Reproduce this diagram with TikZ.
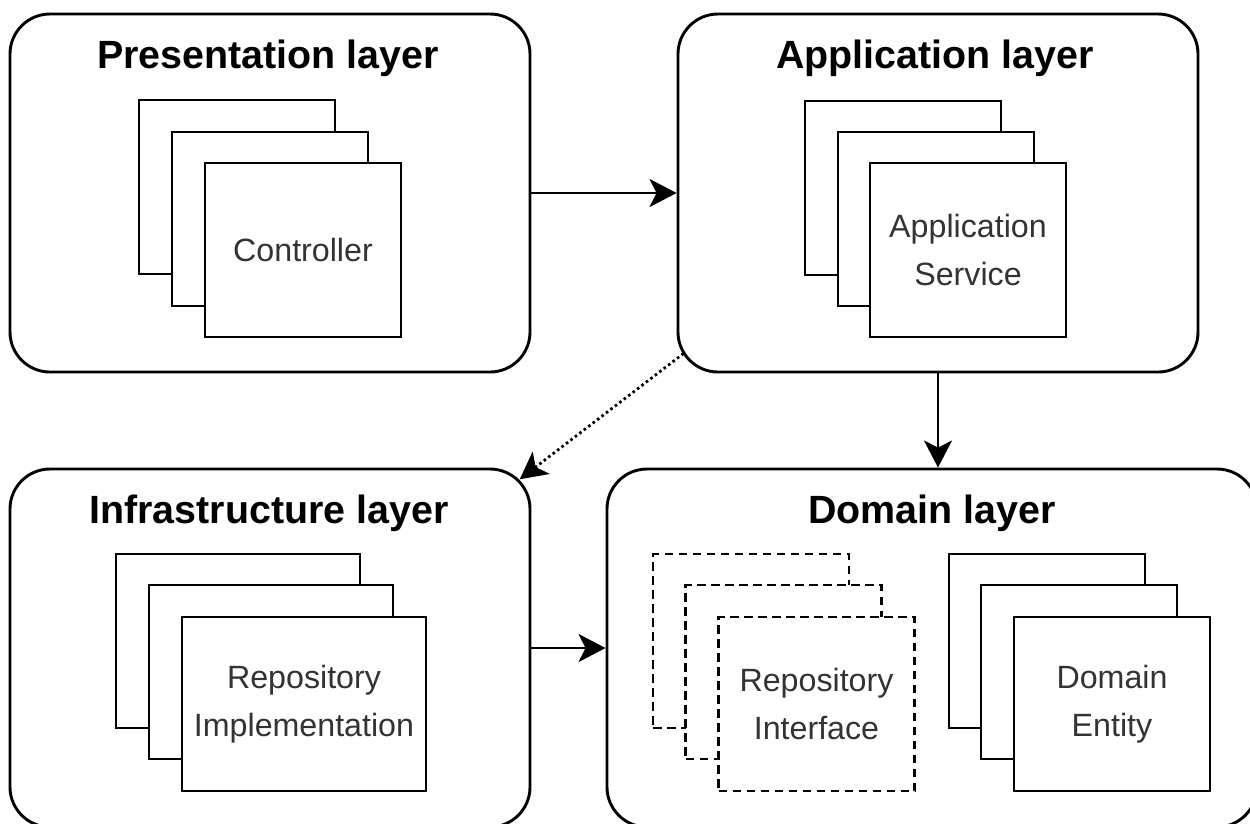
\documentclass[tikz,border=0pt]{standalone}
\usepackage{fontspec}
\setmainfont{Liberation Sans}
\usetikzlibrary{arrows.meta,calc}
\definecolor{labelgray}{HTML}{333333}
\begin{document}
\begin{tikzpicture}[x=1pt,y=-1pt,
  layer/.style={draw, line width=2.9pt, rounded corners=40pt,
    minimum width=520pt, minimum height=358pt, inner sep=0pt},
  ltitle/.style={font=\fontsize{39.4}{45}\selectfont\bfseries, inner sep=0pt},
  card/.style={draw, fill=white, line width=2.9pt, minimum height=174pt,
    minimum width=196pt, inner sep=0pt, align=center,
    font=\fontsize{32.2}{47.5}\selectfont, text=labelgray},
  wide/.style={minimum width=244pt},
  dcard/.style={card, dash pattern=on 8.5pt off 5.5pt},
  arr/.style={line width=2.8pt, -{Stealth[length=27pt,width=28pt,inset=7pt]}},
  dots/.style={dash pattern=on 2.6pt off 3pt},
]
% page
\fill[white] (0,0) rectangle (1250,823);
\useasboundingbox (0,0) rectangle (1250,823);

% Presentation layer
\node[layer] (pres) at (270,193) {};
\node[ltitle] (ptitle) at (268,58) {Presentation layer};
\node[card] (p1) at (237,187) {};
\node[card] (p2) at (270,219) {};
\node[card] (p3) at (303,250) {Controller};

% Application layer
\node[layer] (app) at (938,193) {};
\node[ltitle] (atitle) at (935,58) {Application layer};
\node[card] (a1) at (903,188) {};
\node[card] (a2) at (936,219) {};
\node[card] (a3) at (968,250) {Application\\Service};

% Infrastructure layer
\node[layer] (infra) at (270,648) {};
\node[ltitle] (ititle) at (269,513) {Infrastructure layer};
\node[card,wide] (i1) at (238,641) {};
\node[card,wide] (i2) at (271,672) {};
\node[card,wide] (i3) at (304,704) {Repository\\Implementation};

% Domain layer
\node[layer, minimum width=650pt] (domain) at (932,648) {};
\node[ltitle] (dtitle) at (932,513) {Domain layer};
\node[dcard] (r1) at (751,641) {};
\node[dcard] (r2) at (783.5,672) {};
\node[dcard] (r3) at (816.5,704) {Repository\\Interface};
\node[card] (e1) at (1047,641) {};
\node[card] (e2) at (1079,672) {};
\node[card] (e3) at (1112,704) {Domain\\Entity};

% dependencies
\draw[arr] (pres.east) -- (app.west);
\draw[arr] (app.south) -- (app.south |- domain.north);
\draw[arr] (infra.east) -- (domain.west);
\coordinate (dotA) at ($(app.south west)+(7,-20)$);
\coordinate (dotB) at ($(infra.north east)+(-11.7,11.7)$);
\draw[arr, dots] (dotA) -- (dotB);
\end{tikzpicture}
\end{document}
